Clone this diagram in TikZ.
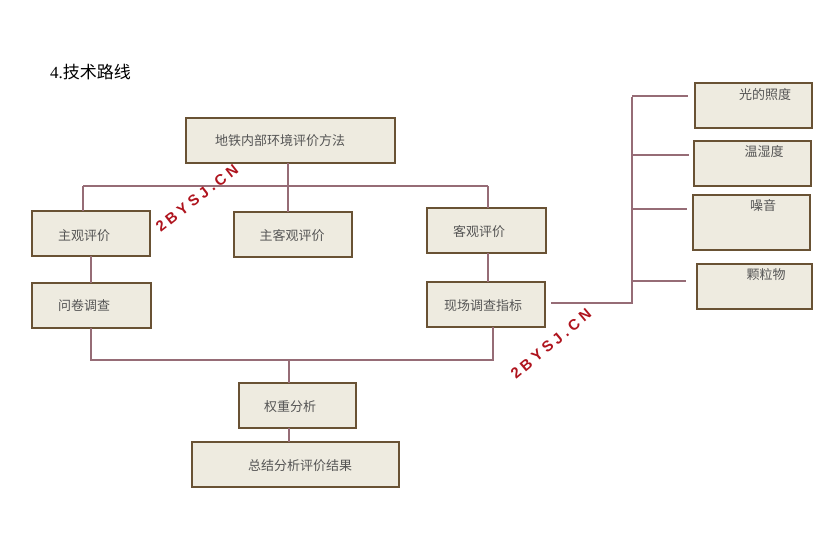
\documentclass[tikz,border=0pt]{standalone}
\usepackage{fontspec}
\setmainfont{Liberation Serif}
\newfontfamily\cjk{Noto Sans CJK SC}
\newfontfamily\wmf[LetterSpace=25]{Liberation Sans}
\definecolor{ln}{RGB}{150,108,118}
\definecolor{bf}{RGB}{238,235,224}
\definecolor{bd}{RGB}{105,82,52}
\definecolor{tx}{RGB}{85,85,85}
\definecolor{wm}{RGB}{175,20,30}
\begin{document}
\begin{tikzpicture}[x=1pt,y=-1pt,
 bx/.style={draw=bd,fill=bf,line width=1.3pt},
 lab/.style={font=\cjk\fontsize{13}{15}\selectfont,text=tx},
 ln/.style={draw=ln,line width=2pt},
 wmk/.style={font=\wmf\bfseries\fontsize{15}{15}\selectfont,text=wm}]
\useasboundingbox (0,0) rectangle (834,558);
\node[anchor=west,inner sep=0pt] (title) at (50,72) {\fontsize{17}{19}\selectfont 4.\cjk 技术路线};
% boxes
\draw[bx] (186,118) rectangle (395,163); \node[lab] (a) at (280,141) {地铁内部环境评价方法};
\draw[bx] (32,211) rectangle (150,256); \node[lab] (b) at (84,236) {主观评价};
\draw[bx] (234,212) rectangle (352,257); \node[lab] (c) at (292,236) {主客观评价};
\draw[bx] (427,208) rectangle (546,253); \node[lab] (d) at (479,232) {客观评价};
\draw[bx] (32,283) rectangle (151,328); \node[lab] (e) at (84,306) {问卷调查};
\draw[bx] (427,282) rectangle (545,327); \node[lab] (f) at (483,306) {现场调查指标};
\draw[bx] (239,383) rectangle (356,428); \node[lab] (g) at (290,407) {权重分析};
\draw[bx] (192,442) rectangle (399,487); \node[lab] (h) at (300,466) {总结分析评价结果};
\draw[bx] (695,83) rectangle (812,128); \node[lab] (r1) at (765,95) {光的照度};
\draw[bx] (694,141) rectangle (811,186); \node[lab] (r2) at (764,152) {温湿度};
\draw[bx] (693,195) rectangle (810,250); \node[lab] (r3) at (763,206) {噪音};
\draw[bx] (697,264) rectangle (812,309); \node[lab] (r4) at (766,275) {颗粒物};
% connectors
\draw[ln] (83,186) -- (488,186);
\draw[ln] (288,163) -- (288,186);
\draw[ln] (83,186) -- (83,211);
\draw[ln] (288,186) -- (288,212);
\draw[ln] (488,186) -- (488,208);
\draw[ln] (91,256) -- (91,283);
\draw[ln] (488,253) -- (488,282);
\draw[ln] (91,328) -- (91,360) -- (493,360) -- (493,327);
\draw[ln] (289,360) -- (289,383);
\draw[ln] (289,428) -- (289,442);
\draw[ln] (551,303) -- (632,303) -- (632,97);
\draw[ln] (632,96) -- (688,96);
\draw[ln] (632,155) -- (689,155);
\draw[ln] (632,209) -- (687,209);
\draw[ln] (632,281) -- (686,281);
% watermarks
\node[wmk,rotate=38] (w1) at (197,198) {2BYSJ.CN};
\node[wmk,rotate=40] (w2) at (551,344) {2BYSJ.CN};
\end{tikzpicture}
\end{document}
